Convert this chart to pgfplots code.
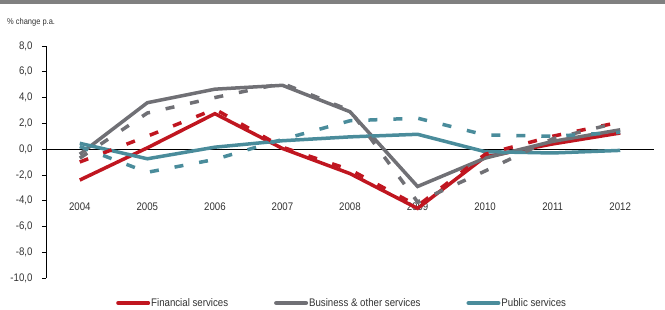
\documentclass[border=0pt]{standalone}
\usepackage{fontspec}
\setmainfont{Liberation Sans}[FakeStretch=0.88]
\usepackage{pgfplots}
\pgfplotsset{compat=1.18}
\definecolor{cred}{RGB}{192,22,32}
\definecolor{cgray}{RGB}{112,112,117}
\definecolor{cteal}{RGB}{74,140,155}
\definecolor{ctext}{RGB}{50,50,50}
\begin{document}
\begin{tikzpicture}[x=1pt,y=1pt]
\path[use as bounding box] (0,0) rectangle (665,309);
\fill[black!50] (0,305) rectangle (665,309);
\node[anchor=west,inner sep=0pt,font=\fontsize{8.5}{10}\selectfont,text=ctext] at (7,287) {\% change p.a.};
\begin{axis}[
  at={(46pt,31pt)}, anchor=south west,
  width=608pt, height=232pt, scale only axis,
  xmin=-0.5, xmax=8.5, ymin=-10, ymax=8,
  axis x line=middle, axis y line=left,
  axis line style={black, line width=0.7pt, -},
  xtick={0,...,8},
  xticklabels={2004,2005,2006,2007,2008,2009,2010,2011,2012},
  major x tick style={draw=none},
  extra x ticks={0.5,1.5,...,8.5},
  extra x tick labels={},
  extra x tick style={major tick length=5pt, tick style={black, line width=0.7pt}},
  xticklabel style={anchor=center, yshift=-54pt},
  ytick={-10,-8,...,8},
  tick align=outside,
  major tick length=4pt,
  tick style={black, line width=0.7pt},
  yticklabel style={anchor=east, xshift=-6pt},
  /pgf/number format/.cd, fixed, fixed zerofill, precision=1, use comma, assume math mode=true,
  /pgfplots/.cd,
  ticklabel style={font=\fontsize{11}{13}\selectfont, text=ctext},
  legend columns=3,
  legend style={at={(axis description cs:0,0)}, anchor=west, xshift=70pt, yshift=-25pt,
    draw=none, fill=none, inner sep=0pt,
    font=\fontsize{11}{13}\selectfont, text=ctext,
    /tikz/every even column/.append style={column sep=45pt},
    nodes={inner sep=1pt}},
  legend image code/.code={\draw[line width=4pt, line cap=round] (0pt,0pt) -- (30pt,0pt);},
  clip=false,
]
\addplot[cred, line width=3.5pt] coordinates {(0,-2.4) (1,0.1) (2,2.75) (3,0.05) (4,-1.9) (5,-4.6) (6,-0.6) (7,0.4) (8,1.25)};
\addlegendentry{Financial services}
\addplot[cgray, line width=3.5pt] coordinates {(0,-0.4) (1,3.6) (2,4.65) (3,4.95) (4,2.9) (5,-2.9) (6,-0.7) (7,0.6) (8,1.5)};
\addlegendentry{Business \& other services}
\addplot[cteal, line width=3.5pt] coordinates {(0,0.45) (1,-0.75) (2,0.15) (3,0.65) (4,0.95) (5,1.15) (6,-0.2) (7,-0.3) (8,-0.1)};
\addlegendentry{Public services}
\addplot[cred, line width=3.5pt, dash pattern=on 9pt off 16pt, forget plot] coordinates {(0,-1.0) (1,1.0) (2,3.1) (3,0.15) (4,-1.6) (5,-4.4) (6,-0.4) (7,1.0) (8,2.1)};
\addplot[cgray, line width=3.5pt, dash pattern=on 9pt off 16pt, forget plot] coordinates {(0,-0.7) (1,2.8) (2,4.0) (3,5.1) (4,3.0) (5,-4.1) (6,-1.7) (7,0.8) (8,2.1)};
\addplot[cteal, line width=3.5pt, dash pattern=on 9pt off 16pt, forget plot] coordinates {(0,0.2) (1,-1.8) (2,-0.8) (3,0.75) (4,2.2) (5,2.4) (6,1.1) (7,1.0) (8,1.3)};
\end{axis}
\end{tikzpicture}
\end{document}
